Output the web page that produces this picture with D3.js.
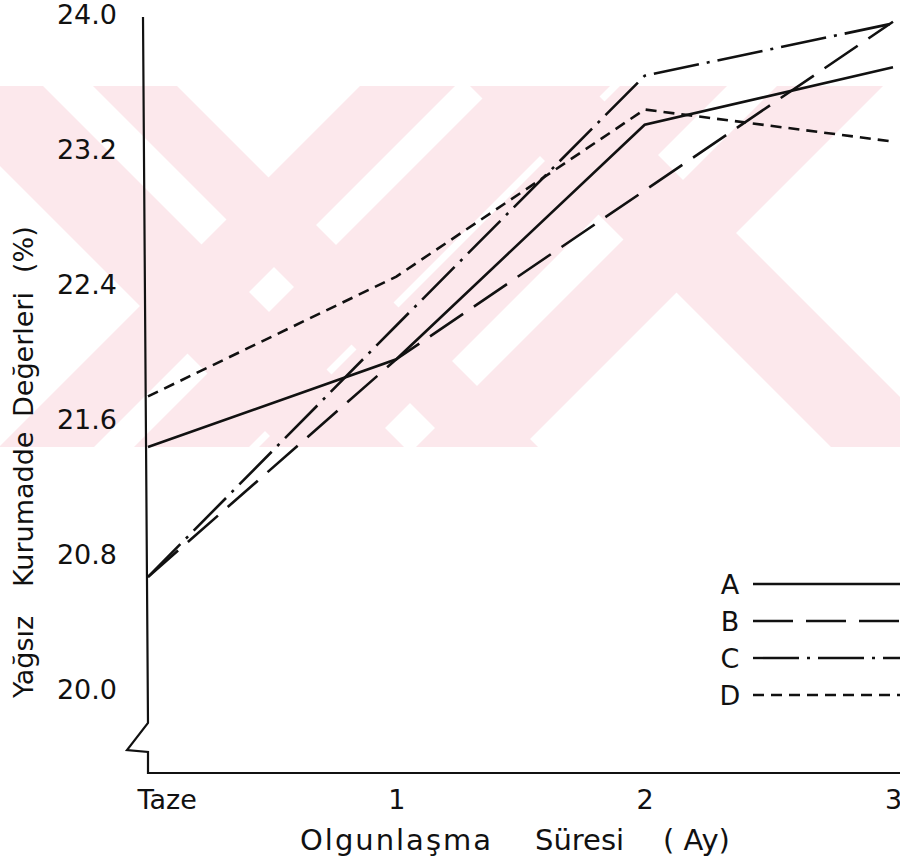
<!DOCTYPE html>
<html>
<head>
<meta charset="utf-8">
<script src="https://cdn.jsdelivr.net/npm/d3@7"></script>
<style>
  body { margin:0; background:#fff; }
  text { font-family:"DejaVu Sans", sans-serif; fill:#111; }
</style>
</head>
<body>
<div id="canvas"></div>
<script>
// data
var categories = ['Taze','1','2','3'];
var months = [0,1,2,3];
var seriesNames = ['A','B','C','D'];
var valuesA = [21.44, 21.96, 23.35, 23.69];
var valuesB = [20.67, 21.96, 22.96, 23.96];
var valuesC = [20.67, 22.16, 23.64, 23.95];
var valuesD = [21.74, 22.45, 23.44, 23.25];
var yTicks = [20.0, 20.8, 21.6, 22.4, 23.2, 24.0];

var W = 900, H = 857;
var svg = d3.select('#canvas').append('svg')
  .attr('width',W).attr('height',H);

var x = d3.scaleLinear().domain([0,3]).range([148,893]);
var y = d3.scaleLinear().domain([20,24]).range([690,15]);

// faint watermark behind the chart: diagonal bands clipped to a strip
var wmTop = 86, wmBot = 447, pink = '#fce8ec';
svg.append('clipPath').attr('id','band')
  .append('rect').attr('x',0).attr('y',wmTop).attr('width',W).attr('height',wmBot-wmTop);
var bands = [ // [left x at top, right x at top, direction]
  [-80,43,1], [93,177,1], [360,455,-1], [495,610,-1],
  [470,589,1], [620,727,-1], [777,883,-1]
];
var drop = wmBot - wmTop;
svg.append('g').attr('clip-path','url(#band)')
  .selectAll('polygon').data(bands).enter().append('polygon')
  .attr('points',function(b){
    return [[b[0],wmTop],[b[1],wmTop],[b[1]+b[2]*drop,wmBot],[b[0]+b[2]*drop,wmBot]].join(' ');
  })
  .attr('fill',pink);

// axes
svg.append('path')
  .attr('d','M143,17 L148,723 L127,750 L148,752 L148,773 L900,773')
  .attr('fill','none').attr('stroke','#111').attr('stroke-width',2.2);

var axisY = d3.axisLeft(y).tickValues(yTicks).tickFormat(d3.format('.1f'))
  .tickSize(0).tickPadding(26);
var gy = svg.append('g').attr('transform','translate(143,0)').call(axisY);
gy.select('.domain').remove();
gy.selectAll('text').style('font-size','27px').attr('fill','#111');

var axisX = d3.axisBottom(x).tickValues(months)
  .tickFormat(function(d){ return categories[d]; })
  .tickSize(0).tickPadding(17);
var gx = svg.append('g').attr('transform','translate(0,773)').call(axisX);
gx.select('.domain').remove();
gx.selectAll('text').style('font-size','27px').attr('fill','#111');
gx.selectAll('.tick').filter(function(d){ return d===0; }).select('text')
  .attr('text-anchor','start').attr('dx',-11);

// axis titles
var xt = svg.append('text').attr('y',850).style('font-size','29px');
xt.append('tspan').attr('x',300).style('letter-spacing','2px').text('Olgunlaşma');
xt.append('tspan').attr('x',535).text('Süresi');
xt.append('tspan').attr('x',663).text('( Ay)');

var yt = svg.append('g').attr('transform','translate(33,0) rotate(-90)')
  .append('text').style('font-size','27px');
yt.append('tspan').attr('x',-698).text('Yağsız');
yt.append('tspan').attr('x',-587).text('Kurumadde');
yt.append('tspan').attr('x',-417).text('Değerleri');
yt.append('tspan').attr('x',-273).text('(%)');

// series lines
var dashes = { A:null, B:'40,13', C:'46,8,3,8', D:'11,7' };
var series = [
  {name:'A', values:valuesA},
  {name:'B', values:valuesB},
  {name:'C', values:valuesC},
  {name:'D', values:valuesD}
];
var line = d3.line()
  .x(function(d,i){ return x(months[i]); })
  .y(function(d){ return y(d); });

svg.selectAll('.series').data(series).enter().append('path')
  .attr('class','series')
  .attr('d',function(d){ return line(d.values); })
  .attr('fill','none').attr('stroke','#111').attr('stroke-width',2.6)
  .attr('stroke-dasharray',function(d){ return dashes[d.name]; });

// legend
var legendY = d3.scalePoint().domain(seriesNames).range([584,695]);
var lg = svg.selectAll('.legend').data(seriesNames).enter().append('g')
  .attr('class','legend')
  .attr('transform',function(d){ return 'translate(0,' + legendY(d) + ')'; });
lg.append('text').attr('x',730).attr('dy','0.36em').attr('text-anchor','middle')
  .style('font-size','27px').text(function(d){ return d; });
lg.append('line').attr('x1',753).attr('x2',900).attr('y1',0).attr('y2',0)
  .attr('stroke','#111').attr('stroke-width',2.4)
  .attr('stroke-dasharray',function(d){ return dashes[d]; });
</script>
</body>
</html>
